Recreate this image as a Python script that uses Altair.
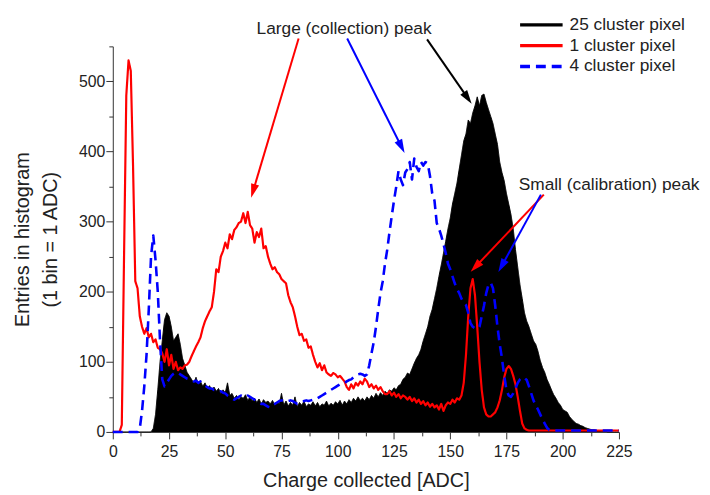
import math
import altair as alt
import pandas as pd

# ---------------- data ----------------
adc = list(range(226))

cluster_25 = [
    0, 0, 0, 0, 0, 0, 0, 0, 0, 0,
    0, 0, 0, 0, 0, 0, 0, 0, 5, 25,
    60, 100, 130, 160, 170, 165, 150, 130, 135, 140,
    125, 105, 95, 85, 80, 75, 70, 78, 68, 72,
    65, 70, 62, 66, 60, 64, 58, 62, 55, 60,
    56, 70, 52, 55, 48, 52, 46, 50, 48, 53,
    45, 50, 44, 48, 42, 47, 40, 46, 42, 44,
    40, 45, 38, 43, 40, 55, 38, 44, 37, 42,
    38, 50, 36, 42, 38, 44, 36, 40, 38, 43,
    37, 42, 36, 40, 38, 44, 37, 41, 38, 43,
    40, 45, 38, 44, 40, 46, 42, 48, 44, 50,
    45, 48, 44, 50, 46, 52, 48, 55, 50, 56,
    52, 58, 55, 60, 58, 63, 60, 66, 68, 75,
    78, 84, 82, 90, 98, 105, 110, 118, 130, 140,
    150, 165, 175, 190, 205, 222, 238, 255, 272, 290,
    305, 325, 340, 355, 375, 395, 415, 425, 445, 440,
    455, 465, 478, 465, 480, 482, 470, 460, 450, 440,
    425, 410, 385, 370, 358, 340, 325, 310, 290, 260,
    235, 210, 190, 170, 158, 150, 140, 130, 125, 115,
    102, 92, 85, 75, 68, 60, 53, 48, 42, 38,
    32, 30, 28, 22, 18, 15, 12, 11, 9, 8,
    6, 5, 4, 3, 3, 2, 2, 1, 1, 1,
    0, 0, 0, 0, 0, 0,
]

cluster_1 = [
    0, 0, 0, 0, 10, 250, 480, 530, 515, 380,
    215, 205, 165, 150, 140, 148, 135, 140, 128, 132,
    120, 118, 112, 100, 118, 95, 110, 90, 100, 88,
    92, 90, 95, 96, 100, 108, 115, 122, 128, 135,
    148, 158, 165, 172, 178, 200, 232, 228, 250, 258,
    270, 262, 282, 275, 288, 292, 298, 300, 312, 298,
    314, 295, 290, 270, 285, 278, 290, 262, 265, 250,
    240, 232, 235, 228, 225, 218, 215, 212, 195, 185,
    178, 165, 150, 138, 140, 130, 132, 120, 122, 110,
    100, 92, 98, 88, 95, 85, 82, 80, 84, 82,
    78, 80, 76, 72, 64, 60, 68, 62, 70, 66,
    72, 68, 76, 72, 64, 68, 62, 66, 60, 64,
    58, 54, 54, 58, 52, 56, 50, 54, 48, 52,
    50, 46, 50, 44, 48, 42, 46, 40, 44, 38,
    42, 36, 40, 35, 38, 32, 40, 30, 38, 42,
    40, 46, 42, 48, 46, 52, 70, 110, 165, 205,
    218, 195, 150, 100, 60, 35, 25, 22, 22, 25,
    28, 35, 45, 60, 78, 90, 94, 90, 80, 68,
    50, 30, 12, 5, 3, 2, 2, 2, 2, 2,
    2, 2, 2, 2, 2, 2, 2, 2, 2, 2,
    2, 2, 2, 2, 2, 2, 2, 2, 2, 2,
    2, 2, 2, 2, 2, 2, 2, 2, 2, 2,
    2, 2, 2, 2, 2, 2,
]

cluster_4 = [
    0, 0, 0, 0, 0, 0, 0, 0, 0, 0,
    0, 0, 5, 30, 65, 110, 175, 250, 280, 245,
    200, 130, 75, 65, 70, 75, 80, 83, 85, 84,
    82, 80, 78, 76, 75, 74, 72, 73, 70, 72,
    68, 66, 64, 62, 62, 60, 60, 58, 58, 56,
    55, 52, 50, 48, 46, 48, 50, 52, 50, 50,
    52, 50, 48, 46, 44, 42, 40, 40, 38, 36,
    35, 38, 40, 42, 44, 45, 44, 43, 44, 45,
    44, 42, 40, 41, 42, 44, 45, 44, 45, 46,
    48, 48, 50, 52, 54, 56, 58, 60, 62, 64,
    66, 68, 70, 70, 72, 74, 75, 78, 80, 82,
    83, 82, 80, 82, 95, 112, 128, 150, 175, 198,
    215, 240, 260, 285, 308, 330, 350, 372, 360, 352,
    370, 375, 385, 360, 390, 378, 372, 385, 380, 385,
    383, 365, 340, 330, 298, 290, 280, 268, 255, 240,
    232, 222, 212, 204, 198, 190, 185, 181, 170, 155,
    150, 148, 147, 150, 165, 180, 198, 210, 213, 205,
    180, 150, 125, 105, 80, 60, 52, 50, 55, 62,
    70, 75, 78, 77, 74, 65, 55, 45, 38, 32,
    25, 18, 12, 6, 3, 2, 2, 2, 2, 2,
    2, 2, 2, 2, 2, 2, 2, 2, 2, 2,
    2, 2, 2, 2, 2, 2, 2, 2, 2, 2,
    2, 2, 2, 2, 2, 2,
]

series_names = ["25 cluster pixel", "1 cluster pixel", "4 cluster pixel"]
series_colors = ["#000000", "#ff0000", "#0000ff"]

x_ticks = [i * 12.5 for i in range(19)]
y_ticks = [i * 50 for i in range(12)]

# annotation arrows (data coordinates: start -> tip)
arrow_color = ["#ff0000", "#0000ff", "#000000", "#ff0000", "#0000ff"]
arrow_x0 = [82.6, 104.2, 139.7, 191.6, 190.3]
arrow_y0 = [561.3, 561.3, 559.9, 338.5, 338.5]
arrow_x1 = [61.5, 129.7, 159.5, 159.1, 171.4]
arrow_y1 = [334.2, 398.0, 468.2, 228.4, 228.0]

label_text = ["Large (collection) peak", "Small (calibration) peak"]
label_x = [102.8, 220.6]
label_y = [575.4, 352.6]

# ---------------- layout / style ----------------
FONT = "Liberation Sans"
W, H = 512, 390
XMAX, YMAX = 225, 550
sx, sy = W / XMAX, H / YMAX

rows = []
for c, x0, y0, x1, y1 in zip(arrow_color, arrow_x0, arrow_y0, arrow_x1, arrow_y1):
    dx = (x1 - x0) * sx
    dy = -(y1 - y0) * sy
    L = math.hypot(dx, dy)
    ang = math.degrees(math.atan2(dx, -dy)) % 360
    back = 9.0
    rows.append(dict(x=x0, y=y0,
                     x2=x1 - dx / L * back / sx,
                     y2=y1 + dy / L * back / sy,
                     tx=x1, ty=y1, angle=ang, color=c))
arrows_df = pd.DataFrame(rows)
labels_df = pd.DataFrame({"x": label_x, "y": label_y, "text": label_text})

long_df = pd.DataFrame({
    "x": adc * 3,
    "y": cluster_25 + cluster_1 + cluster_4,
    "series": [series_names[0]] * 226 + [series_names[1]] * 226 + [series_names[2]] * 226,
})
black_df = pd.DataFrame({"x": adc, "y": cluster_25})

x_scale = alt.Scale(domain=[0, XMAX], nice=False, zero=False)
y_scale = alt.Scale(domain=[0, YMAX], nice=False)

x_axis = alt.Axis(
    values=x_ticks,
    labelExpr="datum.value % 25 == 0 ? datum.label : ''",
    tickSize={"condition": {"test": "datum.value % 25 == 0", "value": 7}, "value": 4},
    labelPadding=5, titlePadding=11,
)
y_axis = alt.Axis(
    values=y_ticks,
    labelExpr="datum.value % 100 == 0 ? datum.label : ''",
    tickSize={"condition": {"test": "datum.value % 100 == 0", "value": 7}, "value": 4},
    labelPadding=1, titlePadding=18, titleLineHeight=29,
)
X_TITLE = "Charge collected [ADC]"
Y_TITLE = ["Entries in histogram", "(1 bin = 1 ADC)"]


def X(f="x"):
    return alt.X(f"{f}:Q", scale=x_scale, axis=x_axis, title=X_TITLE)


def Y(f="y"):
    return alt.Y(f"{f}:Q", scale=y_scale, axis=y_axis, title=Y_TITLE)


legend = alt.Legend(
    title=None, orient="none", legendX=410, legendY=-32,
    symbolType="stroke", symbolSize=1849, symbolStrokeWidth=3.5,
    labelFont=FONT, labelFontSize=17.5, labelColor="#222",
    clipHeight=20.5, rowPadding=0, labelOffset=5, padding=0,
)
color_enc = alt.Color("series:N", scale=alt.Scale(domain=series_names, range=series_colors),
                      legend=legend, sort=series_names)
dash_enc = alt.StrokeDash("series:N", scale=alt.Scale(domain=series_names,
                                                      range=[[1, 0], [1, 0], [10, 6]]),
                          legend=legend, sort=series_names)

area = alt.Chart(black_df).mark_area(color="black").encode(x=X(), y=Y())


def line_layer(name, width):
    return (alt.Chart(long_df).transform_filter(alt.datum.series == name)
            .mark_line(strokeJoin="round")
            .encode(x=X(), y=Y(), color=color_enc, strokeDash=dash_enc,
                    strokeWidth=alt.value(width)))


black_line = line_layer(series_names[0], 1)
red_line = line_layer(series_names[1], 2.2)
blue_line = line_layer(series_names[2], 2.6)

shafts = alt.Chart(arrows_df).mark_rule(strokeWidth=2).encode(
    x=X("x"), y=Y("y"), x2="x2:Q", y2="y2:Q", color=alt.Color("color:N", scale=None))
heads = alt.Chart(arrows_df).mark_point(
    shape="M0,0L-0.6,2L0.6,2Z", filled=True, size=196, opacity=1, strokeWidth=0
).encode(x=X("tx"), y=Y("ty"), angle=alt.Angle("angle:Q", scale=None),
         color=alt.Color("color:N", scale=None))
texts = alt.Chart(labels_df).mark_text(
    font=FONT, fontSize=17.5, color="#222", align="center", baseline="middle"
).encode(x=X("x"), y=Y("y"), text="text:N")

chart = (
    alt.layer(area, black_line, red_line, blue_line, shafts, heads, texts)
    .properties(width=W, height=H, background="white",
                padding={"left": 4, "top": 4, "right": 2, "bottom": 4})
    .configure_view(stroke=None)
    .configure_axis(grid=False, domainColor="#333", tickColor="#333",
                    labelColor="#222", titleColor="#222", labelFont=FONT,
                    titleFont=FONT, labelFontSize=16, titleFontSize=20,
                    titleFontWeight="normal", labelFlush=False, labelOverlap=False)
)

chart.save("out.html", embed_options={"renderer": "svg", "actions": False})
